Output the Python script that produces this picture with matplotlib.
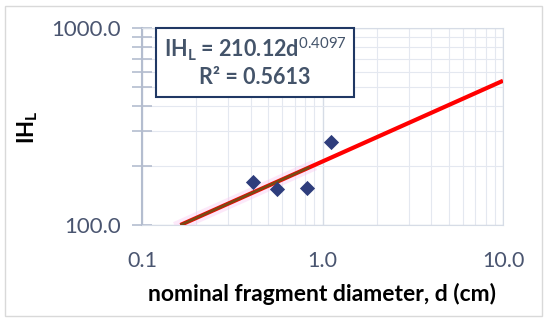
import numpy as np
import matplotlib.pyplot as plt
from matplotlib.patches import Rectangle
from matplotlib.ticker import LogLocator, FixedLocator, NullFormatter

plt.rcParams['font.family'] = ['Lato', 'DejaVu Sans']
plt.rcParams['mathtext.fontset'] = 'custom'
plt.rcParams['mathtext.rm'] = 'Lato'
plt.rcParams['mathtext.bf'] = 'Lato:bold'

# measured points (diameter in cm, IH_L)
diameter = [0.41, 0.563, 0.817, 1.12]
ih_l = [165, 152, 154, 264]

# power fit IH_L = a * d^b
fit_a = 210.12
fit_b = 0.4097
fit_r2 = 0.5613

x_ticks = [0.1, 1.0, 10.0]
x_tick_labels = ['0.1', '1.0', '10.0']
y_ticks = [100, 1000]
y_tick_labels = ['100.0', '1000.0']

label_col = '#4A5570'
grid_col = '#E4E8F0'

fig = plt.figure(figsize=(5.5, 3.25), dpi=100)
ax = fig.add_axes([142/550, 1-225/325, (503-142)/550, (225-28)/325])

ax.set_xscale('log')
ax.set_yscale('log')
ax.set_xlim(0.1, 10)
ax.set_ylim(100, 1000)

ax.xaxis.set_major_locator(FixedLocator(x_ticks))
ax.set_xticklabels(x_tick_labels)
ax.yaxis.set_major_locator(FixedLocator(y_ticks))
ax.set_yticklabels(y_tick_labels)
ax.xaxis.set_minor_locator(LogLocator(base=10, subs=np.arange(2, 10)))
ax.yaxis.set_minor_locator(LogLocator(base=10, subs=np.arange(2, 10)))
ax.xaxis.set_minor_formatter(NullFormatter())
ax.yaxis.set_minor_formatter(NullFormatter())

ax.grid(which='major', color='#D6DCE6', lw=1.0)
ax.grid(which='minor', color=grid_col, lw=0.8)
ax.set_axisbelow(True)

for s in ['top', 'right', 'bottom']:
    ax.spines[s].set_color('#D6DCE6')
ax.spines['left'].set_color('#B4BDCF')
ax.spines['left'].set_linewidth(1.5)

ax.tick_params(axis='x', which='both', length=0, pad=19, labelsize=15.5, labelcolor=label_col)
ax.tick_params(axis='y', which='both', direction='inout', length=14, width=1.2,
               color='#B4BDCF', pad=8, labelsize=16, labelcolor=label_col)

# fitted curve
d_start = (100 / fit_a) ** (1 / fit_b)
xs = np.logspace(np.log10(d_start), 1, 100)
ax.plot(xs, fit_a * xs ** fit_b, color='#FF0000', lw=3, zorder=3, solid_capstyle='butt')
xs2 = np.logspace(np.log10(d_start), np.log10(0.85), 50)
ax.plot(xs2, fit_a * xs2 ** fit_b, color='#F9C6F0', lw=8, alpha=0.4, zorder=2)
ax.plot(xs2, fit_a * xs2 ** fit_b, color='#7A4A14', lw=2.0, zorder=4, solid_capstyle='butt')

ax.scatter(diameter, ih_l, marker='D', s=60, color='#2E3D7C', zorder=5, linewidths=0)

ax.set_xlabel('nominal fragment diameter, d (cm)', fontsize=16.5, fontweight='bold',
              color='black', labelpad=8)
fig.text(28/550, 1-127/325, 'IH$_\\mathbf{L}$', rotation=90, fontsize=16,
         fontweight='bold', ha='center', va='center')

# equation box
eq = 'IH$_\\mathbf{L}$ = 210.12d$^{0.4097}$\nR² = 0.5613'
fig.text(255/550, 1-62/325, eq, fontsize=15.5, fontweight='bold', color='#44546A',
         ha='center', va='center', linespacing=1.25, zorder=10)
fig.patches.append(Rectangle((156/550, 1-97/325), (354-156)/550, (97-28)/325,
                             transform=fig.transFigure, facecolor='white',
                             edgecolor='#203864', lw=1.5, zorder=6))

fig.patches.append(Rectangle((5/550, 1-316/325), (542-5)/550, (316-6)/325,
                             transform=fig.transFigure, facecolor='none',
                             edgecolor='#D9D9D9', lw=1.0))

fig.savefig('out.png', dpi=100)
